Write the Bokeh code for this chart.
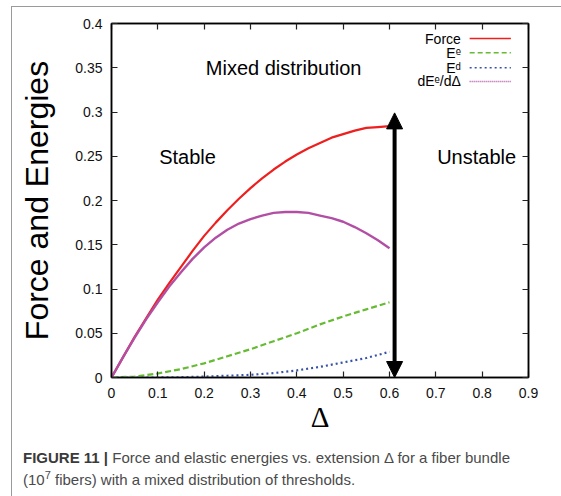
from bokeh.plotting import figure
from bokeh.models import Range1d, LinearAxis, FixedTicker, Label, Arrow, NormalHead, Div
from bokeh.layouts import column
from bokeh.embed import file_html
from bokeh.resources import INLINE

# ---- data ----
delta = [0, 0.025, 0.05, 0.075, 0.1, 0.125, 0.15, 0.175, 0.2, 0.225, 0.25, 0.275,
         0.3, 0.325, 0.35, 0.375, 0.4, 0.425, 0.45, 0.475, 0.5, 0.525, 0.55, 0.575, 0.6]
force = [0, 0.023, 0.046, 0.067, 0.088, 0.107, 0.125, 0.143, 0.160, 0.175, 0.189, 0.202,
         0.214, 0.225, 0.235, 0.244, 0.252, 0.259, 0.265, 0.271, 0.275, 0.279, 0.282, 0.283, 0.284]
dEe_dDelta = [0, 0.023, 0.045, 0.066, 0.085, 0.103, 0.119, 0.134, 0.147, 0.158, 0.167, 0.174,
              0.179, 0.183, 0.186, 0.187, 0.187, 0.186, 0.183, 0.180, 0.176, 0.170, 0.163, 0.155, 0.146]
delta_e = [0, 0.05, 0.1, 0.15, 0.2, 0.25, 0.3, 0.35, 0.4, 0.45, 0.5, 0.55, 0.6]
E_e = [0, 0.001, 0.0045, 0.0095, 0.016, 0.024, 0.032, 0.041, 0.050, 0.060, 0.069, 0.077, 0.085]
E_d = [0, 0, 0, 0.0003, 0.001, 0.002, 0.003, 0.005, 0.008, 0.012, 0.017, 0.022, 0.029]

collapse_delta = 0.611
collapse_force = 0.299

x_ticks = [0, 0.1, 0.2, 0.3, 0.4, 0.5, 0.6, 0.7, 0.8, 0.9]
x_tick_labels = ["0", "0.1", "0.2", "0.3", "0.4", "0.5", "0.6", "0.7", "0.8", "0.9"]
y_ticks = [0, 0.05, 0.1, 0.15, 0.2, 0.25, 0.3, 0.35, 0.4]
y_tick_labels = ["0", "0.05", "0.1", "0.15", "0.2", "0.25", "0.3", "0.35", "0.4"]

legend_labels = ["Force", "E\u1d49", "E\u1d48", "dE\u1d49/d\u0394"]

FONT = "Liberation Sans"

p = figure(width=546, height=435, output_backend="svg", toolbar_location=None,
           x_range=Range1d(0, 0.9), y_range=Range1d(0, 0.4),
           min_border_left=99, min_border_right=30, min_border_top=16, min_border_bottom=65,
           background_fill_color="white", border_fill_color="white")
p.grid.visible = False
p.outline_line_color = "black"
p.outline_line_width = 1.5

def style_axis(ax, ticks, labels, show_labels=True):
    ax.ticker = FixedTicker(ticks=ticks)
    ax.major_tick_in = 6
    ax.major_tick_out = 0
    ax.minor_tick_line_color = None
    ax.axis_line_color = "black"
    ax.axis_line_width = 1.5
    ax.major_tick_line_color = "#222222"
    ax.major_tick_line_width = 1.2
    ax.major_label_text_font = FONT
    ax.major_label_text_color = "#111111"
    if show_labels:
        ax.major_label_overrides = {t: l for t, l in zip(ticks, labels)}
        ax.major_label_text_font_size = "14px"
    else:
        # mirrored tick marks only (gnuplot style), no labels
        ax.major_label_overrides = {t: "" for t in ticks}
        ax.major_label_text_font_size = "1px"
        ax.major_label_standoff = 0

style_axis(p.xaxis[0], x_ticks, x_tick_labels)
style_axis(p.yaxis[0], y_ticks, y_tick_labels)
p.xaxis[0].major_label_standoff = 10
p.yaxis[0].major_label_standoff = 9

p.yaxis[0].axis_label = "Force and Energies"
p.yaxis[0].axis_label_text_font = FONT
p.yaxis[0].axis_label_text_font_size = "32px"
p.yaxis[0].axis_label_text_font_style = "normal"
p.yaxis[0].axis_label_text_color = "black"
p.yaxis[0].axis_label_standoff = 17

p.xaxis[0].axis_label = "\u0394"
p.xaxis[0].axis_label_text_font = "Liberation Serif"
p.xaxis[0].axis_label_text_font_size = "29px"
p.xaxis[0].axis_label_text_font_style = "normal"
p.xaxis[0].axis_label_text_color = "black"
p.xaxis[0].axis_label_standoff = 0

top_ax = LinearAxis()
style_axis(top_ax, x_ticks, x_tick_labels, show_labels=False)
p.add_layout(top_ax, "above")
right_ax = LinearAxis()
style_axis(right_ax, y_ticks, y_tick_labels, show_labels=False)
p.add_layout(right_ax, "right")

# ---- curves ----
RED, GREEN, BLUE, MAG = "#ee1f1f", "#66bb33", "#3852a8", "#b24fa4"
p.line(delta, force, line_color=RED, line_width=2.2)
p.line(delta_e, E_e, line_color=GREEN, line_width=2.2, line_dash="6 3")
p.line(delta_e, E_d, line_color=BLUE, line_width=2.2, line_dash="2 3")
p.line(delta, dEe_dDelta, line_color=MAG, line_width=2.4)

# ---- collapse arrow ----
p.add_layout(Arrow(x_start=collapse_delta, y_start=0, x_end=collapse_delta, y_end=collapse_force,
                   line_width=4, line_color="black",
                   start=NormalHead(size=16, fill_color="black", line_color="black"),
                   end=NormalHead(size=16, fill_color="black", line_color="black")))

# ---- annotations ----
def txt(x, y, s, size, align="center", **kw):
    p.add_layout(Label(x=x, y=y, text=s, text_font=FONT, text_font_size=size,
                       text_align=align, text_baseline="middle", text_color="black", **kw))

txt(0.3715, 0.350, "Mixed distribution", "20px")
txt(0.164, 0.249, "Stable", "20px")
txt(0.788, 0.249, "Unstable", "20px")

# ---- legend (gnuplot style: label left, sample right) ----
leg_y = [0.383, 0.367, 0.350, 0.3345]
leg_styles = [(RED, None), (GREEN, "5 3"), (BLUE, "2 3"), (MAG, "1 1")]
for lab, ly, (col, dash) in zip(legend_labels, leg_y, leg_styles):
    txt(0.754, ly, lab, "14px", align="right")
    kw = {"line_dash": dash} if dash else {}
    p.segment(x0=[0.773], y0=[ly], x1=[0.862], y1=[ly], line_color=col, line_width=1.6, **kw)

# ---- caption ----
caption_bold = "FIGURE 11 |"
caption_line1 = "Force and elastic energies vs. extension \u0394 for a fiber bundle"
caption_line2a = "(10"
caption_sup = "7"
caption_line2b = " fibers) with a mixed distribution of thresholds."
cap = Div(width=546, height=47,
          text=('<div style="padding-left:6px;font-family:\'Liberation Sans\';font-size:15px;'
                'line-height:22px;color:#4a4a4a;white-space:nowrap;">'
                f'<b style="color:#3a3a3a">{caption_bold}</b> {caption_line1}<br>'
                f'{caption_line2a}<span style="position:relative;top:-6px;font-size:11px;line-height:0;">'
                f'{caption_sup}</span>{caption_line2b}</div>'))

layout = column(p, cap, spacing=0)
layout.styles = {"border-top": "1px solid #9a9a9a", "border-left": "1px solid #9a9a9a",
                 "border-right": "1px solid #9a9a9a", "margin-left": "11px", "margin-top": "6px"}

open("out.html", "w").write(file_html(layout, INLINE))
